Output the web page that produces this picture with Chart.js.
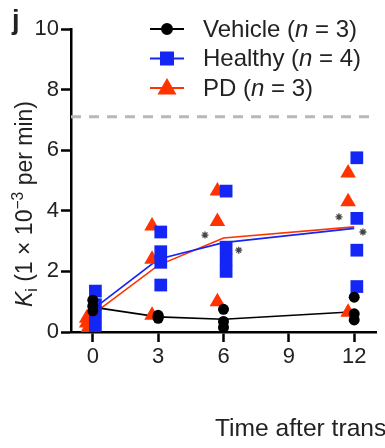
<!DOCTYPE html>
<html><head><meta charset="utf-8">
<script src="https://cdn.jsdelivr.net/npm/chart.js@4"></script>
<style>
html,body{margin:0;padding:0;background:#fff;overflow:hidden;width:385px;height:448px;}
#wrap{position:relative;width:385px;height:448px;overflow:hidden;}
canvas{position:absolute;left:0;top:0;}
.lbl{position:absolute;font-family:"Liberation Sans",Arial,sans-serif;color:#222;white-space:nowrap;line-height:1;}
.sm{font-size:0.68em;line-height:0;position:relative;}
</style></head><body>
<div id="wrap">
<canvas id="c" width="385" height="448"></canvas>
<div class="lbl" style="left:12px;top:7px;font-size:27px;font-weight:bold;">j</div>
<div class="lbl" style="left:24px;top:204px;font-size:23px;transform:translate(-50%,-50%) rotate(-90deg);"><i>K</i><span class="sm" style="top:0.3em;">i</span> (1 × 10<span class="sm" style="top:-0.55em;">−3</span> per min)</div>
<div class="lbl" style="left:215px;top:416px;font-size:24.6px;">Time after transplantation (months)</div>
</div>
<script>
// ---- data ----
const times = [0, 3, 6, 12];
const xTickValues = [0, 3, 6, 9, 12];
const yTickValues = [0, 2, 4, 6, 8, 10];

const vehicleValues = [[1.05, 0.85, 0.7], [0.55, 0.5, 0.45], [0.75, 0.35, 0.15], [1.15, 0.6, 0.4]];
const healthyValues = [[1.35, 0.9, 0.5, 0.1], [3.3, 2.65, 2.3, 1.55], [4.65, 2.8, 2.4, 2.0], [5.75, 3.75, 2.7, 1.5]];
const pdValues = [[0.45, 0.3, 0.05], [3.5, 2.4, 0.55], [4.65, 3.65, 1.0], [5.25, 4.3, 0.65]];

const vehicleMean = [0.82, 0.5, 0.42, 0.67];
const healthyMean = [0.75, 2.4, 2.95, 3.42];
const pdMean = [0.58, 2.2, 3.1, 3.47];

const thresholdValue = 7.1;
const asteriskX = [5.15, 6.7, 11.3, 12.4];
const asteriskY = [3.2, 2.7, 3.8, 3.3];

const seriesNames = ['Vehicle', 'Healthy', 'PD'];
const seriesN = [3, 4, 3];

// ---- styling ----
const BLACK = '#000000', BLUE = '#1426f5', RED = '#ff3300';
const FONT = '"Liberation Sans", Arial, sans-serif';
const offsets = { vehicle: 0, healthy: 0.12, pd: -0.28 };

function pts(values, off) {
  const out = [];
  values.forEach((grp, i) => grp.forEach(v => out.push({ x: times[i] + off, y: v })));
  return out;
}
function meanPts(m) { return m.map((v, i) => ({ x: times[i], y: v })); }

const legendItems = [
  { name: seriesNames[0], n: seriesN[0], color: BLACK, style: 'circle', r: 5 },
  { name: seriesNames[1], n: seriesN[1], color: BLUE, style: 'rect', r: 8.5 },
  { name: seriesNames[2], n: seriesN[2], color: RED, style: 'triangle', r: 9 }
];

const legendPlugin = {
  id: 'customLegend',
  afterDraw(chart) {
    const ctx = chart.ctx;
    legendItems.forEach((it, i) => {
      const y = 29 + i * 29.5;
      ctx.save();
      ctx.strokeStyle = it.color; ctx.lineWidth = 2;
      ctx.beginPath(); ctx.moveTo(150, y); ctx.lineTo(184, y); ctx.stroke();
      ctx.fillStyle = it.color; ctx.strokeStyle = it.color;
      Chart.helpers.drawPoint(ctx, { pointStyle: it.style, radius: it.r, borderWidth: 1, rotation: 0 }, 167, y + (it.style === 'triangle' ? 1 : 0));
      ctx.fillStyle = '#222'; ctx.textBaseline = 'middle';
      let x = 203;
      const parts = [[it.name + ' (', false], ['n', true], [' = ' + it.n + ')', false]];
      parts.forEach(([t, ital]) => {
        ctx.font = (ital ? 'italic ' : '') + '24px ' + FONT;
        ctx.fillText(t, x, y + 1);
        x += ctx.measureText(t).width;
      });
      ctx.restore();
    });
  }
};

const axisCommon = {
  grid: { drawOnChartArea: false, drawTicks: true, tickLength: 10, tickWidth: 2.5, tickColor: '#000' },
  border: { color: '#000', width: 2.5 },
  ticks: { color: '#222', font: { family: FONT, size: 22 }, padding: 2 }
};

new Chart(document.getElementById('c'), {
  type: 'scatter',
  data: {
    datasets: [
      { data: asteriskX.map((x, i) => ({ x, y: asteriskY[i] })), pointStyle: 'star', pointRadius: 3.5, borderColor: '#444', borderWidth: 1.3, backgroundColor: '#444', order: 0 },
      { data: pts(vehicleValues, offsets.vehicle), pointStyle: 'circle', pointRadius: 5.5, backgroundColor: BLACK, borderColor: BLACK, borderWidth: 0, order: 1 },
      { data: pts(healthyValues, offsets.healthy), pointStyle: 'rect', pointRadius: 9, backgroundColor: BLUE, borderColor: BLUE, borderWidth: 0, order: 2 },
      { data: pts(pdValues, offsets.pd), pointStyle: 'triangle', pointRadius: 9, backgroundColor: RED, borderColor: RED, borderWidth: 0, order: 3 },
      { data: meanPts(vehicleMean), showLine: true, borderColor: BLACK, borderWidth: 1.6, pointRadius: 0, order: 4 },
      { data: meanPts(healthyMean), showLine: true, borderColor: BLUE, borderWidth: 1.6, pointRadius: 0, order: 5 },
      { data: meanPts(pdMean), showLine: true, borderColor: RED, borderWidth: 1.6, pointRadius: 0, order: 6 },
      { data: [{ x: -1, y: thresholdValue }, { x: 13, y: thresholdValue }], showLine: true, borderColor: '#b8b8b8', borderWidth: 3, borderDash: [10, 8], pointRadius: 0, order: 7 }
    ]
  },
  options: {
    responsive: false, animation: false, devicePixelRatio: 1,
    layout: { padding: { left: 31, right: 2, top: 29, bottom: 76 } },
    plugins: { legend: { display: false }, tooltip: { enabled: false } },
    scales: {
      x: Object.assign({}, axisCommon, {
        type: 'linear', min: -1, max: 13,
        afterBuildTicks: s => { s.ticks = xTickValues.map(v => ({ value: v })); },
        afterFit: s => { s.height = 40; }
      }),
      y: Object.assign({}, axisCommon, {
        min: 0, max: 10,
        afterBuildTicks: s => { s.ticks = yTickValues.map(v => ({ value: v })); },
        afterFit: s => { s.width = 40; }
      })
    }
  },
  plugins: [legendPlugin]
});
</script>
</body></html>
